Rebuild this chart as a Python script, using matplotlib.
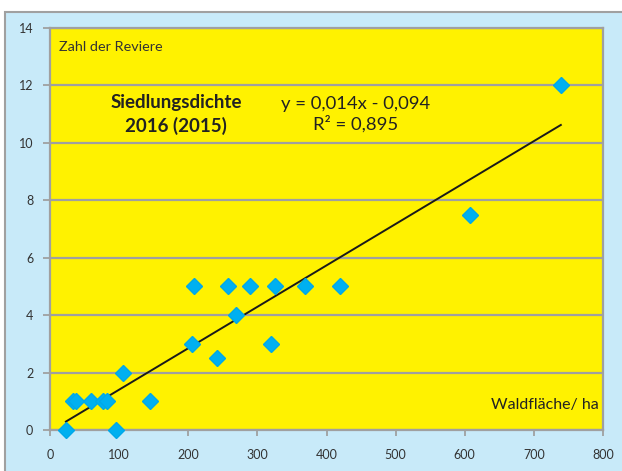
import matplotlib.pyplot as plt
import numpy as np
from matplotlib.patches import Rectangle

# Waldfläche (ha) und Zahl der Reviere
wald_ha = [23, 33, 38, 59, 76, 82, 95, 106, 145, 206, 209, 241, 257, 269, 289, 319, 326, 369, 420, 607, 739]
reviere = [0, 1, 1, 1, 1, 1, 0, 2, 1, 3, 5, 2.5, 5, 4, 5, 3, 5, 5, 5, 7.5, 12]

x_ticks = [0, 100, 200, 300, 400, 500, 600, 700, 800]
y_ticks = [0, 2, 4, 6, 8, 10, 12, 14]

plt.rcParams['font.family'] = ['Lato', 'DejaVu Sans']

W, H = 622, 471
bg = '#c8eaf9'
plot_bg = '#fff200'
grey = '#a0a0a0'

fig = plt.figure(figsize=(W/100, H/100), dpi=100, facecolor='white')
# chart area, cut off at right and bottom like in the original
fig.patches.append(Rectangle((5/W, -0.1), 1.2, 1 - 12/H + 0.1, transform=fig.transFigure,
                             facecolor=bg, edgecolor=grey, linewidth=1.5, zorder=-1))

ax = fig.add_axes([50/W, 1 - 430/H, (603-50)/W, (430-28)/H])
ax.set_facecolor(plot_bg)

ax.set_xlim(0, 800)
ax.set_ylim(0, 14)
ax.set_xticks(x_ticks)
ax.set_yticks(y_ticks)
ax.grid(axis='y', color=grey, linewidth=1.6)
ax.set_axisbelow(True)

for s in ax.spines.values():
    s.set_color(grey)
    s.set_linewidth(1.6)

ax.tick_params(axis='both', colors=grey, labelcolor='#333333', labelsize=9, width=1.3)
ax.tick_params(axis='x', length=4, pad=10)
ax.tick_params(axis='y', length=5, pad=7)

# trend line
coef = np.polyfit(wald_ha, reviere, 1)
xl = np.array([min(wald_ha), max(wald_ha)])
ax.plot(xl, np.polyval(coef, xl), color='#1a1a1a', linewidth=1.4, zorder=3)

ax.plot(wald_ha, reviere, linestyle='none', marker='D', markersize=8.5,
        color='#00b0f0', markeredgecolor='#00a8e8', zorder=4, clip_on=False)

ax.text(13, 13.34, 'Zahl der Reviere', fontsize=10.4, color='#333333', va='center', ha='left')
ax.text(182, 11.0, 'Siedlungsdichte\n2016 (2015)', fontsize=13.5, fontweight='bold', color='#222222',
        ha='center', va='center', linespacing=1.39)
ax.text(442, 11.0, 'y = 0,014x - 0,094\nR² = 0,895', fontsize=13.3, color='#222222',
        ha='center', va='center', linespacing=1.25)
ax.text(794, 0.87, 'Waldfläche/ ha', fontsize=11.5, color='#222222', ha='right', va='center')

fig.savefig('out.png', dpi=100, facecolor='white')
